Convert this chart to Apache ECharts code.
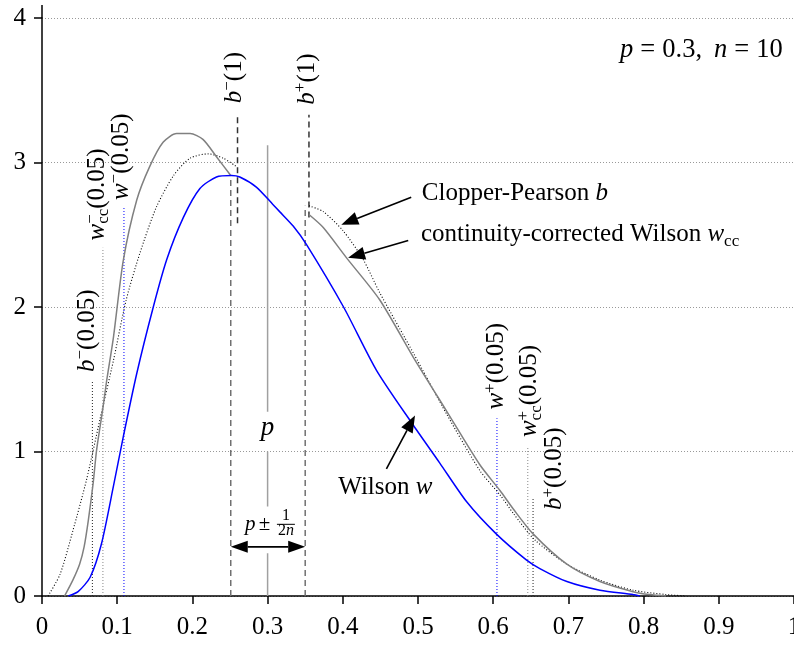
<!DOCTYPE html>
<html><head><meta charset="utf-8">
<script src="https://cdn.jsdelivr.net/npm/echarts@6/dist/echarts.min.js"></script>
<style>html,body{margin:0;padding:0;background:#fff}#c{width:794px;height:646px}</style>
</head><body><div id="c"></div>
<script>
// ---- data ----
const xTickValues = [0, 0.1, 0.2, 0.3, 0.4, 0.5, 0.6, 0.7, 0.8, 0.9, 1];
const yTickValues = [0, 1, 2, 3, 4];
// Wilson w (blue)
const wilsonW = [[0.035,0],[0.048,0.03],[0.064,0.13],[0.079,0.36],[0.095,0.76],[0.108,1.10],[0.126,1.54],[0.148,2.00],[0.166,2.33],[0.188,2.62],[0.210,2.82],[0.232,2.90],[0.252,2.91],[0.263,2.90],[0.285,2.83],[0.307,2.71],[0.316,2.66],[0.334,2.56],[0.352,2.43],[0.401,2.00],[0.445,1.56],[0.494,1.18],[0.529,0.92],[0.565,0.65],[0.604,0.43],[0.644,0.25],[0.662,0.19],[0.698,0.10],[0.742,0.04],[0.786,0.01],[0.795,0]];
// Clopper-Pearson b (grey), two pieces
const clopperLeft = [[0.030,0],[0.041,0.11],[0.050,0.22],[0.056,0.34],[0.0615,0.52],[0.068,0.78],[0.0726,1.01],[0.081,1.30],[0.086,1.49],[0.095,1.79],[0.108,2.32],[0.126,2.74],[0.143,2.97],[0.161,3.14],[0.179,3.20],[0.197,3.20],[0.214,3.16],[0.232,3.04],[0.251,2.91]];
const clopperRight = [[0.355,2.64],[0.374,2.55],[0.405,2.34],[0.449,2.05],[0.494,1.65],[0.538,1.28],[0.582,0.91],[0.609,0.73],[0.627,0.60],[0.653,0.43],[0.698,0.22],[0.742,0.10],[0.786,0.03],[0.808,0.01],[0.830,0]];
// continuity-corrected Wilson wcc (dotted), two pieces
const wccLeft = [[0.008,0],[0.024,0.15],[0.041,0.45],[0.059,0.80],[0.077,1.22],[0.095,1.63],[0.112,2.05],[0.130,2.37],[0.152,2.69],[0.175,2.91],[0.197,3.03],[0.221,3.06],[0.241,3.03],[0.259,2.97]];
const wccRight = [[0.355,2.70],[0.374,2.66],[0.400,2.53],[0.427,2.33],[0.449,2.10],[0.494,1.68],[0.538,1.26],[0.582,0.87],[0.609,0.70],[0.627,0.57],[0.655,0.39],[0.698,0.22],[0.742,0.11],[0.786,0.04],[0.830,0.01],[0.857,0]];
// vertical markers: [x, yFrom, yTo]
const bLow05 = [0.067, 0, 1.49];
const wccLow05 = [0.081, 0, 2.41];
const wLow05 = [0.109, 0, 2.69];
const wHigh05 = [0.605, 0, 1.23];
const wccHigh05 = [0.646, 0, 1.03];
const bHigh05 = [0.653, 0, 0.68];
const pMinusHalf = [0.251, 0, 2.90];
const pPlusHalf = [0.350, 0, 2.70];
const bLow1 = [0.260, 2.58, 3.33];
const bHigh1 = [0.355, 2.62, 3.33];
const pSegments = [[0.3, 0, 0.295], [0.3, 0.62, 1.0], [0.3, 1.275, 3.12]];

// ---- chart ----
const FONT = '"Liberation Serif","Times New Roman",serif';
const chart = echarts.init(document.getElementById('c'), null, {renderer: 'canvas'});

function curve(data, color, width, dash) {
  return {type: 'line', data: data, showSymbol: false, symbol: 'none', silent: true, smooth: 0.25,
    lineStyle: {color: color, width: width, type: dash || 'solid'}, animation: false, z: 3};
}
function vline(v, color, width, dash, z) {
  return {type: 'line', data: [[v[0], v[1]], [v[0], v[2]]], showSymbol: false, symbol: 'none', silent: true,
    lineStyle: {color: color, width: width, type: dash}, animation: false, z: z || 2};
}
const DOT = [1, 2];
const DASH = [6, 4];
const series = [
  vline(bLow05, '#222', 1, DOT), vline(wccLow05, '#888', 1, DOT), vline(wLow05, '#0000ff', 1, DOT),
  vline(wHigh05, '#0000ff', 1, DOT), vline(wccHigh05, '#888', 1, DOT), vline(bHigh05, '#222', 1, DOT),
  vline(pMinusHalf, '#707070', 1.5, DASH), vline(pPlusHalf, '#707070', 1.5, DASH),
  vline(bLow1, '#333', 1.5, DASH), vline(bHigh1, '#333', 1.5, DASH),
].concat(pSegments.map(s => vline(s, '#a0a0a0', 1.5, 'solid'))).concat([
  curve(wccLeft, '#000', 1.1, DOT), curve(wccRight, '#000', 1.1, DOT),
  curve(clopperLeft, '#808080', 1.5), curve(clopperRight, '#808080', 1.5),
  curve(wilsonW, '#0000ff', 1.5)
]);

chart.setOption({
  animation: false,
  grid: {left: 42, right: 0, top: 18, bottom: 50, containLabel: false, outerBoundsMode: 'none'},
  xAxis: {type: 'value', min: xTickValues[0], max: xTickValues[xTickValues.length - 1], interval: 0.1,
    axisLine: {lineStyle: {color: '#000', width: 1.5}},
    axisTick: {length: 8, lineStyle: {color: '#000', width: 1.5}},
    axisLabel: {color: '#000', fontFamily: FONT, fontSize: 25, margin: 19,
      formatter: v => String(+(+v).toFixed(1))},
    splitLine: {show: false}},
  yAxis: {type: 'value', min: yTickValues[0], max: yTickValues[yTickValues.length - 1], interval: 1,
    axisLine: {show: true, lineStyle: {color: '#000', width: 1.5}},
    axisTick: {show: true, length: 8, lineStyle: {color: '#000', width: 1.5}},
    axisLabel: {color: '#000', fontFamily: FONT, fontSize: 25, margin: 16},
    splitLine: {show: true, lineStyle: {color: '#999', width: 1, type: DOT}}},
  series: series
});

// ---- annotations ----
const px = (x, y) => chart.convertToPixel({xAxisIndex: 0, yAxisIndex: 0}, [x, y]);
const base = {fontFamily: FONT, fill: '#000'};
const rich = {
  n: Object.assign({fontSize: 25, lineHeight: 30}, base),
  i: Object.assign({fontSize: 25, lineHeight: 30, fontStyle: 'italic'}, base),
  sup: Object.assign({fontSize: 17, lineHeight: 17, verticalAlign: 'top'}, base),
  supz: Object.assign({fontSize: 17, lineHeight: 17, verticalAlign: 'top', width: 0}, base),
  sub: Object.assign({fontSize: 17, lineHeight: 17, verticalAlign: 'bottom'}, base),
  t: Object.assign({fontSize: 26.5, lineHeight: 30}, base),
  ti: Object.assign({fontSize: 26.5, lineHeight: 30, fontStyle: 'italic'}, base),
  eq: Object.assign({fontSize: 26.5, lineHeight: 30, padding: [0, 7]}, base),
  cm: Object.assign({fontSize: 26.5, lineHeight: 30, padding: [0, 12, 0, 0]}, base),
};
const G = [];
// rotated labels: anchor = baseline start in data coords
const vLabels = [
  {at: [0.0717, 1.55], t: '{i|b}{sup|−}{n|(0.05)}'},
  {at: [0.085, 2.46], t: '{i|w}{supz|−}{sub|cc}{n|(0.05)}'},
  {at: [0.117, 2.74], t: '{i|w}{sup|−}{n|(0.05)}'},
  {at: [0.267, 3.41], t: '{i|b}{sup|−}{n|(1)}'},
  {at: [0.364, 3.40], t: '{i|b}{sup|+}{n|(1)}'},
  {at: [0.616, 1.29], t: '{i|w}{sup|+}{n|(0.05)}'},
  {at: [0.660, 1.10], t: '{i|w}{supz|+}{sub|cc}{n|(0.05)}'},
  {at: [0.693, 0.595], t: '{i|b}{sup|+}{n|(0.05)}'},
];
vLabels.forEach(l => {
  const p = px(l.at[0], l.at[1]);
  G.push({type: 'text', x: p[0] - 8.5, y: p[1], rotation: Math.PI / 2, z: 100, silent: true,
    style: {text: l.t, rich: rich, align: 'left', verticalAlign: 'middle', textAlign: 'left', textVerticalAlign: 'middle'}});
});
// horizontal labels: anchor = baseline start
function htext(at, t, align) {
  const p = px(at[0], at[1]);
  G.push({type: 'text', x: p[0], y: p[1] - 8.5, z: 100, silent: true,
    style: {text: t, rich: rich, align: align, verticalAlign: 'middle', textAlign: align, textVerticalAlign: 'middle'}});
}
htext([0.505, 2.73], '{n|Clopper-Pearson }{i|b}', 'left');
htext([0.504, 2.44], '{n|continuity-corrected Wilson }{i|w}{sub|cc}', 'left');
htext([0.394, 0.69], '{n|Wilson }{i|w}', 'left');
htext([0.985, 3.72], '{ti|p}{eq|=}{cm|0.3,}{ti|n}{eq|=}{t|10}', 'right');
// big p
(function () {
  const p = px(0.3, 1.10);
  G.push({type: 'text', x: p[0], y: p[1] - 9, z: 100, silent: true,
    style: {text: 'p', fontFamily: FONT, fontSize: 27, fontStyle: 'italic', fill: '#000', align: 'center', verticalAlign: 'middle', textAlign: 'center', textVerticalAlign: 'middle'}});
  const q = px(0.270, 0.445);
  G.push({type: 'text', x: q[0], y: q[1] - 7, z: 100, silent: true,
    style: {text: '{a|p} {b|±}', rich: {a: Object.assign({fontSize: 21, fontStyle: 'italic'}, base), b: Object.assign({fontSize: 21}, base)},
      align: 'left', verticalAlign: 'middle', textAlign: 'left', textVerticalAlign: 'middle'}});
  const one = px(0.3245, 0.515), two = px(0.3245, 0.41);
  G.push({type: 'text', x: one[0], y: one[1] - 5.5, z: 100, silent: true,
    style: {text: '1', fontFamily: FONT, fontSize: 16, fill: '#000', align: 'center', verticalAlign: 'middle', textAlign: 'center', textVerticalAlign: 'middle'}});
  G.push({type: 'text', x: two[0], y: two[1] - 5.5, z: 100, silent: true,
    style: {text: '{n|2}{i|n}', rich: {n: Object.assign({fontSize: 16}, base), i: Object.assign({fontSize: 16, fontStyle: 'italic'}, base)},
      align: 'center', verticalAlign: 'middle', textAlign: 'center', textVerticalAlign: 'middle'}});
  const b0 = px(0.3124, 0.496), b1 = px(0.3363, 0.496);
  G.push({type: 'line', z: 100, silent: true, shape: {x1: b0[0], y1: b0[1], x2: b1[0], y2: b1[1]}, style: {stroke: '#000', lineWidth: 1}});
})();
// arrows
function arrowHead(tip, from, len, w) {
  const dx = tip[0] - from[0], dy = tip[1] - from[1], d = Math.hypot(dx, dy);
  const ux = dx / d, uy = dy / d, bx = tip[0] - ux * len, by = tip[1] - uy * len;
  G.push({type: 'polygon', z: 100, silent: true, shape: {points: [tip, [bx - uy * w / 2, by + ux * w / 2], [bx + uy * w / 2, by - ux * w / 2]]}, style: {fill: '#000'}});
  return [bx, by];
}
function arrow(tipD, tailD) {
  const tip = px(tipD[0], tipD[1]), tail = px(tailD[0], tailD[1]);
  const b = arrowHead(tip, tail, 17, 13);
  G.push({type: 'line', z: 100, silent: true, shape: {x1: tail[0], y1: tail[1], x2: b[0], y2: b[1]}, style: {stroke: '#000', lineWidth: 1.6}});
}
arrow([0.398, 2.57], [0.491, 2.76]);
arrow([0.407, 2.34], [0.487, 2.46]);
arrow([0.496, 1.25], [0.458, 0.88]);
(function () {
  const a = px(pMinusHalf[0], 0.34), b = px(pPlusHalf[0], 0.34);
  const ba = arrowHead(a, b, 17, 12), bb = arrowHead(b, a, 17, 12);
  G.push({type: 'line', z: 100, silent: true, shape: {x1: ba[0], y1: ba[1], x2: bb[0], y2: bb[1]}, style: {stroke: '#000', lineWidth: 1.6}});
})();
// y axis line stub above 4
(function () {
  const t = px(0, 4);
  G.push({type: 'line', z: 100, silent: true, shape: {x1: t[0], y1: t[1], x2: t[0], y2: t[1] - 13}, style: {stroke: '#000', lineWidth: 1.5}});
})();
chart.setOption({graphic: G});
</script></body></html>
